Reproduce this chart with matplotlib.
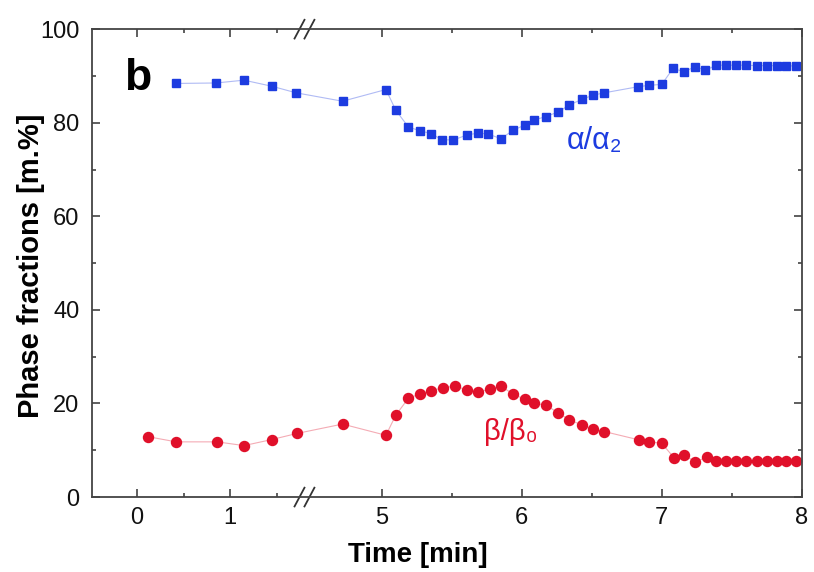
import numpy as np
import matplotlib
matplotlib.use("Agg")
import matplotlib.pyplot as plt
from matplotlib.ticker import FixedLocator

plt.rcParams['font.family'] = ['Liberation Sans', 'DejaVu Sans']

# broken time axis: left part 0..1.8 min, right part 4.45..8 min
b1, b2, r, eps = 1.8, 4.45, 1.505, 0.001

def fwd(t):
    t = np.asarray(t, dtype=float)
    return np.where(t <= b1, t,
           np.where(t < b2, b1 + (t - b1) * eps,
                    b1 + (b2 - b1) * eps + (t - b2) * r))

def inv(u):
    u = np.asarray(u, dtype=float)
    ub2 = b1 + (b2 - b1) * eps
    return np.where(u <= b1, u,
           np.where(u < ub2, b1 + (u - b1) / eps,
                    b2 + (u - ub2) / r))

# alpha/alpha2 phase fraction
t_alpha = [0.42, 0.85, 1.15, 1.45, 1.71, 4.72, 5.03, 5.10, 5.19, 5.27, 5.35,
           5.43, 5.51, 5.61, 5.69, 5.76, 5.85, 5.94, 6.02, 6.09, 6.17, 6.26,
           6.34, 6.43, 6.51, 6.59, 6.83, 6.91, 7.00, 7.08, 7.16, 7.24, 7.31,
           7.39, 7.46, 7.53, 7.60, 7.68, 7.75, 7.82, 7.89, 7.96]
v_alpha = [88.4, 88.5, 89.1, 87.8, 86.4, 84.6, 87.1, 82.7, 79.1, 78.3, 77.7,
           76.4, 76.3, 77.4, 77.8, 77.6, 76.6, 78.4, 79.5, 80.6, 81.3, 82.3,
           83.8, 85.0, 85.9, 86.4, 87.7, 88.0, 88.2, 91.6, 90.9, 92.0, 91.2,
           92.3, 92.3, 92.3, 92.3, 92.2, 92.2, 92.2, 92.2, 92.1]

# beta/beta0 phase fraction
t_beta = [0.12, 0.42, 0.86, 1.15, 1.45, 1.72, 4.72, 5.03, 5.10, 5.19, 5.27,
          5.35, 5.44, 5.52, 5.61, 5.69, 5.77, 5.85, 5.94, 6.02, 6.09, 6.17,
          6.26, 6.34, 6.43, 6.51, 6.59, 6.84, 6.91, 7.00, 7.09, 7.16, 7.24,
          7.32, 7.39, 7.46, 7.53, 7.60, 7.68, 7.75, 7.82, 7.89, 7.96]
v_beta = [12.9, 11.8, 11.8, 11.0, 12.3, 13.6, 15.6, 13.2, 17.5, 21.1, 22.0,
          22.7, 23.4, 23.7, 22.9, 22.5, 23.0, 23.7, 22.0, 20.9, 20.0, 19.7,
          18.0, 16.5, 15.4, 14.5, 14.0, 12.2, 11.8, 11.5, 8.3, 9.0, 7.5,
          8.5, 7.8, 7.8, 7.8, 7.8, 7.8, 7.8, 7.8, 7.8, 7.8]

x_major = [0, 1, 5, 6, 7, 8]
x_minor = [0.5, 1.5, 5.5, 6.5, 7.5]

blue = '#1d3ce0'
red = '#e0102a'

fig = plt.figure(figsize=(8.14, 5.72), dpi=100)
ax = fig.add_axes([0.113, 0.131, 0.872, 0.818])
ax.set_xscale('function', functions=(fwd, inv))

ax.plot(t_alpha, v_alpha, '-', color=blue, lw=0.8, alpha=0.35)
ax.plot(t_alpha, v_alpha, 's', color=blue, ms=6, mec=blue)
ax.plot(t_beta, v_beta, '-', color=red, lw=0.8, alpha=0.35)
ax.plot(t_beta, v_beta, 'o', color=red, ms=7.2, mec=red)

ax.set_xlim(-0.484, 8)
ax.set_ylim(0, 100)
ax.xaxis.set_major_locator(FixedLocator(x_major))
ax.xaxis.set_minor_locator(FixedLocator(x_minor))
ax.set_xticklabels([str(v) for v in x_major])
ax.set_yticks(np.arange(0, 101, 20))
ax.set_yticks(np.arange(10, 100, 20), minor=True)

ax.tick_params(which='both', direction='in', top=True, right=True,
               labelsize=17, colors='#333333', labelcolor='#111111', width=1.1)
ax.tick_params(which='major', length=6)
ax.tick_params(axis='x', which='major', pad=7)
ax.tick_params(axis='y', which='major', pad=9)
ax.tick_params(which='minor', length=3)
for s in ax.spines.values():
    s.set_linewidth(1.3)
    s.set_color('#444444')

ax.set_xlabel('Time [min]', fontsize=20, fontweight='bold')
ax.xaxis.set_label_coords(0.459, -0.095)
ax.set_ylabel('Phase fractions [m.%]', fontsize=21, fontweight='bold')
ax.yaxis.set_label_coords(-0.066, 0.494)

ax.text(0.045, 0.895, 'b', transform=ax.transAxes, fontsize=32,
        fontweight='bold', va='center', ha='left')
ax.text(6.52, 76, 'α/α₂', color=blue, fontsize=22, ha='center', va='center')
ax.text(5.92, 14, 'β/β₀', color=red, fontsize=21, ha='center', va='center')

# break marks on top and bottom axes
fig.canvas.draw()
xb = ax.transData.transform((b1, 0))[0]
x0 = ax.transAxes.transform((0, 0))[0]
x1 = ax.transAxes.transform((1, 0))[0]
fb = (xb - x0) / (x1 - x0)
dx, dy = 0.007, 0.02
for yy in (0, 1):
    for off in (-0.007, 0.007):
        ax.plot([fb + off - dx, fb + off + dx], [yy - dy, yy + dy],
                color='#333333', lw=1.3, transform=ax.transAxes, clip_on=False)

fig.savefig('out.png', dpi=100)
